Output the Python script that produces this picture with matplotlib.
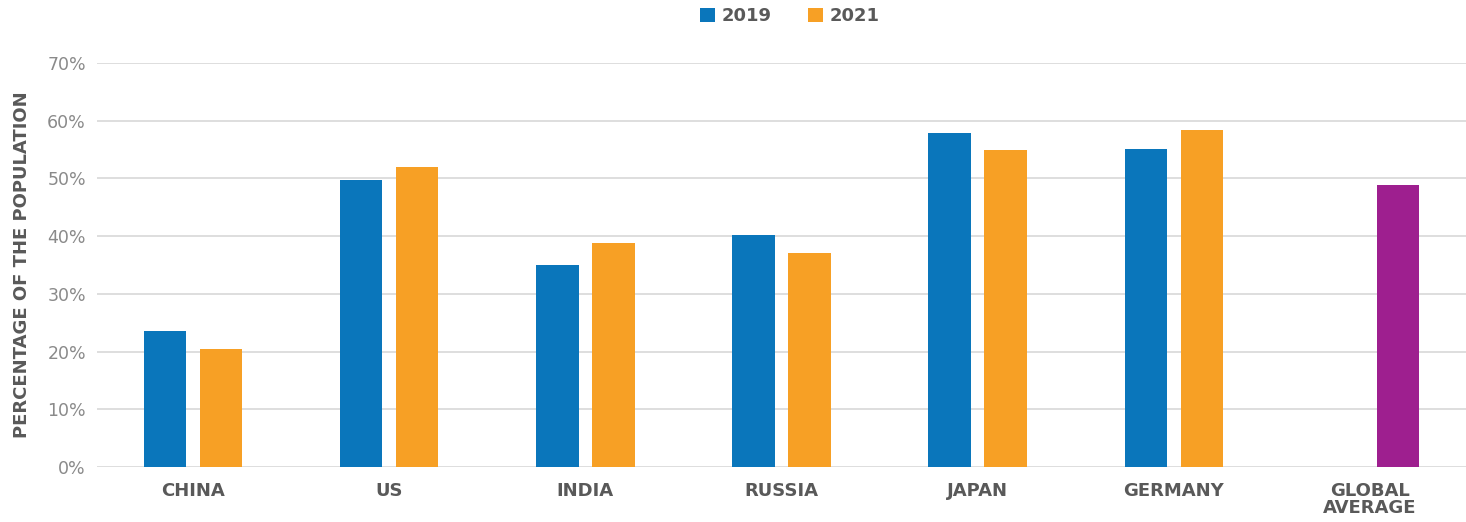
import matplotlib
matplotlib.use("Agg")
import matplotlib.pyplot as plt
import numpy as np

categories = ["CHINA", "US", "INDIA", "RUSSIA", "JAPAN", "GERMANY", "GLOBAL\nAVERAGE"]
values_2019 = [23.6, 49.7, 35.0, 40.2, 57.9, 55.1]
values_2021 = [20.4, 52.0, 38.8, 37.1, 54.9, 58.4]
global_average = 48.9
yticks = [0, 10, 20, 30, 40, 50, 60, 70]

c2019 = "#0a76bb"
c2021 = "#f7a025"
cglob = "#9e1f8f"

fig = plt.figure(figsize=(14.66, 5.22), dpi=100)
ax = fig.add_axes([97/1466, 1 - 467/522, 1 - 97/1466, (467 - 63)/522])

w = 0.216
off = 0.143
x = np.arange(len(values_2019))
ax.bar(x - off, values_2019, width=w, color=c2019, label="2019", zorder=3)
ax.bar(x + off, values_2021, width=w, color=c2021, label="2021", zorder=3)
ax.bar([len(values_2019) + off], [global_average], width=w, color=cglob, zorder=3)

ax.set_xlim(-0.49, 6.49)
ax.set_ylim(0, 70)
ax.set_yticks(yticks)
ax.set_yticklabels([f"{t}%" for t in yticks], color="#8a8a8a", fontsize=12.5)
ax.set_xticks(np.arange(len(categories)))
ax.set_xticklabels(categories, color="#595959", fontsize=13, fontweight="bold", linespacing=0.9)
ax.tick_params(axis="both", length=0, pad=8)
ax.tick_params(axis="x", pad=11)
for s in ax.spines.values():
    s.set_visible(False)
ax.grid(axis="y", color="#d8d8d8", linewidth=1.2, zorder=0)
ax.set_axisbelow(True)

fig.text(22/1466, 1 - 265/522, "PERCENTAGE OF THE POPULATION", rotation=90, ha="center", va="center",
         fontsize=13, fontweight="bold", color="#595959")

leg = fig.legend(loc="center", bbox_to_anchor=(790/1466, 1 - 16/522), ncol=2, frameon=False,
                 handlelength=0.8, handleheight=0.8, handletextpad=0.4, columnspacing=2.0,
                 prop={"weight": "bold", "size": 13})
for t in leg.get_texts():
    t.set_color("#595959")

fig.savefig("out.png", dpi=100)
